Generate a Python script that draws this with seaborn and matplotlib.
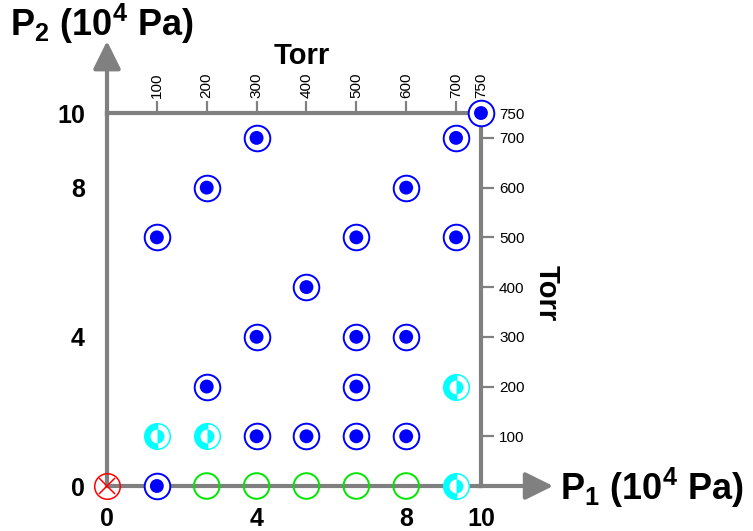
import matplotlib
matplotlib.use('Agg')
import matplotlib.pyplot as plt
import numpy as np
import pandas as pd
import seaborn as sns

# 压力换算: Torr -> 10^4 Pa
def torr2pa(t):
    return np.asarray(t) * 101325.0 / 760.0 / 1e4

def pa2torr(p):
    return np.asarray(p) * 1e4 * 760.0 / 101325.0

# 数据 (Torr)
blue_x = [100, 300, 400, 500, 600, 200, 500, 300, 500, 600, 400, 100, 500, 700, 200, 600, 300, 700, 750]
blue_y = [0, 100, 100, 100, 100, 200, 200, 300, 300, 300, 400, 500, 500, 500, 600, 600, 700, 700, 750]
green_x = [200, 300, 400, 500, 600]
green_y = [0, 0, 0, 0, 0]
cyan_x = [100, 200, 700, 700]
cyan_y = [100, 100, 200, 0]
red_x = [0]
red_y = [0]

tick_torr = [0, 100, 200, 300, 400, 500, 600, 700, 750]
tick_labels = ['0', '', '', '4', '', '', '8', '', '10']
torr_ticks = [100, 200, 300, 400, 500, 600, 700, 750]

sns.set_theme(style='white')
plt.rcParams['font.family'] = ['Liberation Sans', 'DejaVu Sans']
plt.rcParams['mathtext.fontset'] = 'custom'
plt.rcParams['mathtext.bf'] = 'Liberation Sans:bold'
plt.rcParams['mathtext.rm'] = 'Liberation Sans:bold'
plt.rcParams['mathtext.default'] = 'bf'
for k in ['text.color', 'axes.labelcolor', 'xtick.color', 'ytick.color']:
    plt.rcParams[k] = 'black'

gray = '#808080'
W, H = 753, 531
fig = plt.figure(figsize=(W / 100, H / 100), dpi=100)
ax = fig.add_axes([107 / W, (H - 486) / H, 374 / W, 373 / H])
ax.set_xlim(0, 10)
ax.set_ylim(0, 10)

blue = pd.DataFrame({'x': torr2pa(blue_x), 'y': torr2pa(blue_y)})
green = pd.DataFrame({'x': torr2pa(green_x), 'y': torr2pa(green_y)})

# 外圈 + 实心点
sns.scatterplot(data=blue, x='x', y='y', s=340, facecolor='white', edgecolor='blue',
                linewidth=1.4, zorder=5, clip_on=False, ax=ax)
sns.scatterplot(data=blue, x='x', y='y', s=100, color='blue', edgecolor='none',
                zorder=6, clip_on=False, ax=ax)
sns.scatterplot(data=green, x='x', y='y', s=340, facecolor='none', edgecolor='#00e600',
                linewidth=1.4, zorder=5, clip_on=False, ax=ax)

# 半填充的青色标记
ax.plot(torr2pa(cyan_x), torr2pa(cyan_y), 'o', ls='none', ms=18.4, fillstyle='left',
        markerfacecolor='cyan', markerfacecoloralt='white', markeredgecolor='cyan',
        markeredgewidth=1.1, zorder=5, clip_on=False)
ax.plot(torr2pa(cyan_x), torr2pa(cyan_y), 'o', ls='none', ms=10, fillstyle='right',
        markerfacecolor='cyan', markerfacecoloralt='white', markeredgecolor='none',
        zorder=6, clip_on=False)

# 原点红色标记
ax.plot(red_x, red_y, 'o', ms=18.4, mfc='none', mec='red', mew=1.1, zorder=5, clip_on=False)
ax.plot(red_x, red_y, 'x', ms=12, mec='red', mew=1.1, zorder=6, clip_on=False)

# 主坐标轴
for s in ['left', 'bottom']:
    ax.spines[s].set_color(gray)
    ax.spines[s].set_linewidth(3)
ax.spines['top'].set_visible(False)
ax.spines['right'].set_visible(False)
ax.set_xticks(torr2pa(tick_torr))
ax.set_xticklabels(tick_labels)
ax.set_yticks(torr2pa(tick_torr))
ax.set_yticklabels(tick_labels)
ax.tick_params(axis='both', direction='out', length=10, width=1.6, color=gray,
               labelsize=18, labelcolor='black')
ax.tick_params(axis='y', pad=6)
ax.tick_params(axis='x', pad=5)
for t in ax.get_xticklabels() + ax.get_yticklabels():
    t.set_fontweight('bold')
ax.set_xlabel('')
ax.set_ylabel('')

# Torr 坐标轴
secx = ax.secondary_xaxis('top', functions=(pa2torr, torr2pa))
secx.set_xticks(torr_ticks)
secx.tick_params(direction='out', length=9, width=1.6, color=gray, labelsize=11,
                 labelrotation=90, pad=2, labelcolor='black')
secx.spines['top'].set_color(gray)
secx.spines['top'].set_linewidth(3)
secx.set_xlabel('Torr', fontsize=21, fontweight='bold', va='center')
secx.xaxis.set_label_coords(302 / W, 1 - 56 / H, transform=fig.transFigure)

secy = ax.secondary_yaxis('right', functions=(pa2torr, torr2pa))
secy.set_yticks(torr_ticks)
secy.tick_params(direction='out', length=9, width=1.6, color=gray, labelsize=11, pad=4,
                 labelcolor='black')
secy.spines['right'].set_color(gray)
secy.spines['right'].set_linewidth(3)
secy.set_ylabel('Torr', fontsize=21, fontweight='bold', rotation=270, va='center', ha='center')
secy.yaxis.set_label_coords(547 / W, 1 - 293 / H, transform=fig.transFigure)

# 箭头
arrow = dict(arrowstyle='-|>,head_length=0.85,head_width=0.42', color=gray, lw=3,
             shrinkA=0, shrinkB=0, mutation_scale=20)
ax.annotate('', xy=(11.93, 0), xytext=(9.9, 0), arrowprops=arrow, annotation_clip=False)
ax.annotate('', xy=(0, 11.93), xytext=(0, 9.9), arrowprops=arrow, annotation_clip=False)

ax.text(12.1, -0.05, r'P$_1$ (10$^4$ Pa)', fontsize=26, fontweight='bold', ha='left', va='center')
ax.text(-2.6, 12.4, r'P$_2$ (10$^4$ Pa)', fontsize=26, fontweight='bold', ha='left', va='center')

fig.savefig('out.png', dpi=100)
